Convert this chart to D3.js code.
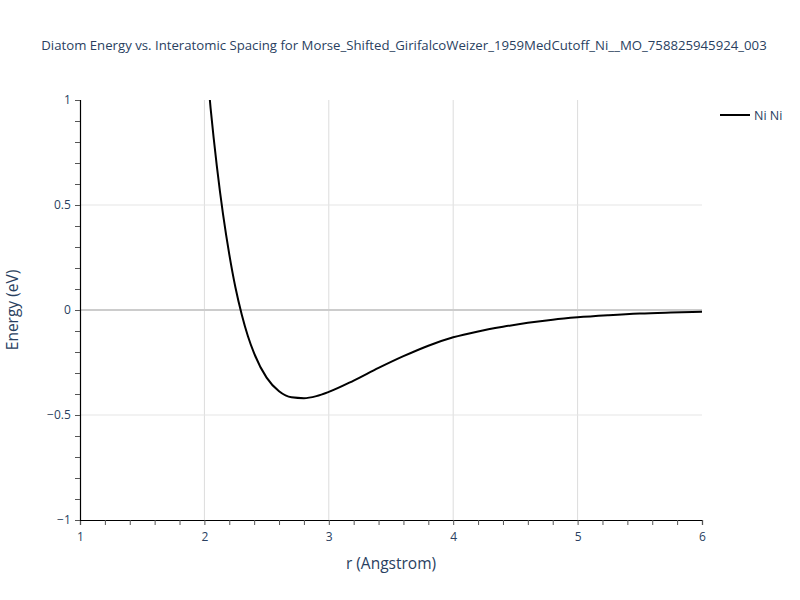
<!DOCTYPE html>
<html>
<head>
<meta charset="utf-8">
<script src="https://cdn.jsdelivr.net/npm/d3@7"></script>
<style>
  body { margin: 0; background: #fff; }
  svg { font-family: "Open Sans", verdana, arial, sans-serif; }
</style>
</head>
<body>
<svg id="chart" width="800" height="600"></svg>
<script>
const titleText = "Diatom Energy vs. Interatomic Spacing for Morse_Shifted_GirifalcoWeizer_1959MedCutoff_Ni__MO_758825945924_003";
const seriesName = "Ni Ni";
const rValues = [2.0, 2.05, 2.1, 2.15, 2.2, 2.25, 2.3, 2.35, 2.4, 2.5, 2.6, 2.7, 2.8, 2.9, 3.0, 3.2, 3.4, 3.6, 3.8, 4.0, 4.2, 4.4, 4.6, 4.8, 5.0, 5.25, 5.5, 5.75, 6.0];
const energyValues = [1.290, 0.960, 0.685, 0.455, 0.265, 0.106, -0.021, -0.125, -0.207, -0.322, -0.387, -0.416, -0.420, -0.410, -0.390, -0.336, -0.276, -0.220, -0.170, -0.130, -0.102, -0.080, -0.061, -0.046, -0.035, -0.025, -0.017, -0.012, -0.008];
const xTicks = [1, 2, 3, 4, 5, 6];
const yTicks = [-1, -0.5, 0, 0.5, 1];

const svg = d3.select("#chart");
const margin = {left: 80, right: 98, top: 100, bottom: 80};
const W = 800, H = 600;
const x = d3.scaleLinear().domain([1, 6]).range([margin.left, W - margin.right]);
const y = d3.scaleLinear().domain([-1, 1]).range([H - margin.bottom, margin.top]);
const textColor = "#2a3f5f";

// grid
const g = svg.append("g");
g.selectAll(".vg").data(xTicks.filter(t => t > 1 && t < 6)).enter().append("line")
  .attr("x1", d => x(d)).attr("x2", d => x(d))
  .attr("y1", y(1)).attr("y2", y(-1))
  .attr("stroke", "#dcdcdc").attr("stroke-width", 1);
g.selectAll(".hg").data(yTicks.filter(t => t !== 0 && t > -1 && t < 1)).enter().append("line")
  .attr("x1", x(1)).attr("x2", x(6))
  .attr("y1", d => y(d)).attr("y2", d => y(d))
  .attr("stroke", "#e5e5e5").attr("stroke-width", 1);
g.append("line").attr("x1", x(1)).attr("x2", x(6)).attr("y1", y(0)).attr("y2", y(0))
  .attr("stroke", "#cccccc").attr("stroke-width", 2);

// clip
svg.append("clipPath").attr("id", "clip").append("rect")
  .attr("x", x(1)).attr("y", y(1)).attr("width", x(6) - x(1)).attr("height", y(-1) - y(1));

const data = rValues.map((r, i) => [r, energyValues[i]]);
svg.append("path").datum(data)
  .attr("clip-path", "url(#clip)")
  .attr("fill", "none").attr("stroke", "#000").attr("stroke-width", 2)
  .attr("stroke-linejoin", "round")
  .attr("d", d3.line().x(d => x(d[0])).y(d => y(d[1])).curve(d3.curveMonotoneX));

// axes
const xAxis = d3.axisBottom(x).tickValues(d3.range(1, 6.001, 0.2)).tickSize(5).tickFormat(d => {
  const r = Math.round(d * 10) / 10; return Number.isInteger(r) ? r : "";
});
const xg = svg.append("g").attr("transform", `translate(0,${y(-1)})`).call(xAxis);
const yAxis = d3.axisLeft(y).tickValues(d3.range(-1, 1.001, 0.1)).tickSize(5).tickFormat(d => {
  const r = Math.round(d * 10) / 10;
  if (yTicks.some(t => Math.abs(t - r) < 1e-9)) return (r < 0 ? "\u2212" + Math.abs(r) : String(r));
  return "";
});
const yg = svg.append("g").attr("transform", `translate(${x(1)},0)`).call(yAxis);
[xg, yg].forEach(a => {
  a.select(".domain").attr("stroke", "#000").attr("stroke-width", 1.2);
  a.selectAll(".tick line").attr("stroke", "#555");
  a.selectAll(".tick text").attr("fill", textColor).attr("font-size", 12)
    .attr("font-family", "\"Open Sans\", verdana, arial, sans-serif");
});
xg.selectAll(".tick text").attr("dy", "1.1em");
yg.selectAll(".tick text").attr("dx", "-0.1em");

// titles
svg.append("text").attr("x", 404).attr("y", 50).attr("text-anchor", "middle")
  .attr("fill", textColor).attr("font-size", 13.2).text(titleText);
svg.append("text").attr("x", (x(1) + x(6)) / 2).attr("y", 569).attr("text-anchor", "middle")
  .attr("fill", textColor).attr("font-size", 15.5).text("r (Angstrom)");
svg.append("text").attr("transform", `translate(18,${y(0)}) rotate(-90)`).attr("text-anchor", "middle")
  .attr("fill", textColor).attr("font-size", 15.5).text("Energy (eV)");

// legend
svg.append("line").attr("x1", 720).attr("x2", 750).attr("y1", 115).attr("y2", 115)
  .attr("stroke", "#000").attr("stroke-width", 2);
svg.append("text").attr("x", 754).attr("y", 119.5).attr("fill", textColor).attr("font-size", 12.5).text(seriesName);
</script>
</body>
</html>
